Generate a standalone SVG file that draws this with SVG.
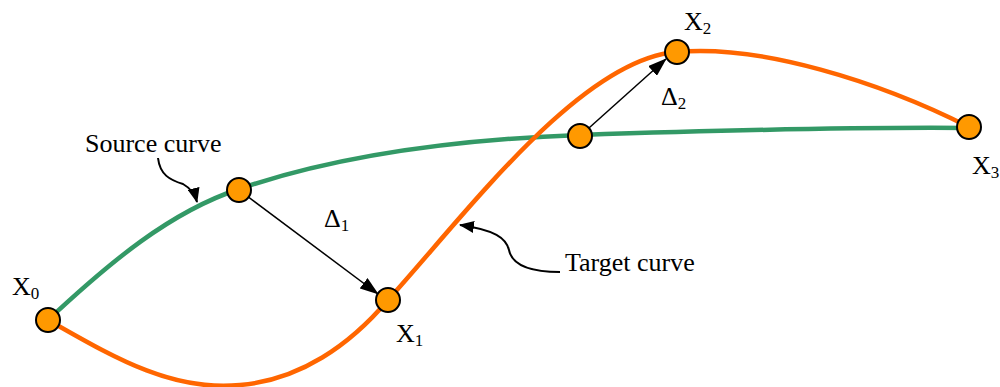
<svg xmlns="http://www.w3.org/2000/svg" width="1000" height="387" viewBox="0 0 1000 387">
<style>
.lbl{font-family:"Liberation Serif","Times New Roman",serif;font-size:26px;fill:#000}
.sub{font-size:17px}
.node{fill:#FF9900;stroke:#000;stroke-width:2}
.green{fill:none;stroke:#339966;stroke-width:4.5}
.orange{fill:none;stroke:#FF6600;stroke-width:4.5}
.arr{fill:none;stroke:#000;stroke-width:1.5}
.call{fill:none;stroke:#000;stroke-width:2}
</style>
<defs>
<marker id="ah" markerWidth="19" markerHeight="13" refX="18" refY="6.5" orient="auto" markerUnits="userSpaceOnUse" viewBox="0 0 19 13">
<path d="M0,0 L19,6.5 L0,13 z" fill="#000"/>
</marker>
<marker id="ahc" markerWidth="15" markerHeight="12" refX="14" refY="6" orient="auto" markerUnits="userSpaceOnUse" viewBox="0 0 15 12">
<path d="M0,0 L15,6 L0,12 z" fill="#000"/>
</marker>
</defs>
<g id="connectors">
<path id="source-curve" class="green" d="M48,320 C110,262 170,212 239,189 C330,158 440,140 580,135 C700,131 850,127 969,128"/>
<path id="target-curve" class="orange" d="M48,320 C110,355 170,392 240,385 C300,380 350,345 388,300 C465,215 580,60 676,52 C760,44 880,82 969,127"/>
<path id="delta1" class="arr" d="M239,190 L378,294" marker-end="url(#ah)"/>
<path id="delta2" class="arr" d="M580,136 L666,59" marker-end="url(#ah)"/>
<path id="source-callout" class="call" d="M158,158 C160,175 170,180 183,184 C190,188 195,194 197,202" marker-end="url(#ahc)"/>
<path id="target-callout" class="call" d="M560,272 C530,272 512,265 509,250 C506,238 495,230 460,225" marker-end="url(#ahc)"/>
</g>
<g id="node-x0"><circle class="node" cx="48" cy="320" r="12"/><text class="lbl" x="12" y="295">X<tspan class="sub" dy="4">0</tspan></text></g>
<g id="node-s1"><circle class="node" cx="239" cy="190" r="12"/></g>
<g id="node-x1"><circle class="node" cx="388" cy="300" r="12"/><text class="lbl" x="396" y="342">X<tspan class="sub" dy="4">1</tspan></text></g>
<g id="node-s2"><circle class="node" cx="580" cy="136" r="12"/></g>
<g id="node-x2"><circle class="node" cx="677" cy="52" r="12"/><text class="lbl" x="684" y="30">X<tspan class="sub" dy="4">2</tspan></text></g>
<g id="node-x3"><circle class="node" cx="969" cy="127" r="12"/><text class="lbl" x="972" y="174">X<tspan class="sub" dy="4">3</tspan></text></g>
<g id="labels">
<text class="lbl" x="85" y="152">Source curve</text>
<text class="lbl" x="324" y="227">Δ<tspan class="sub" dy="4">1</tspan></text>
<text class="lbl" x="661" y="105">Δ<tspan class="sub" dy="4">2</tspan></text>
<text class="lbl" x="565" y="271">Target curve</text>
</g>
</svg>
